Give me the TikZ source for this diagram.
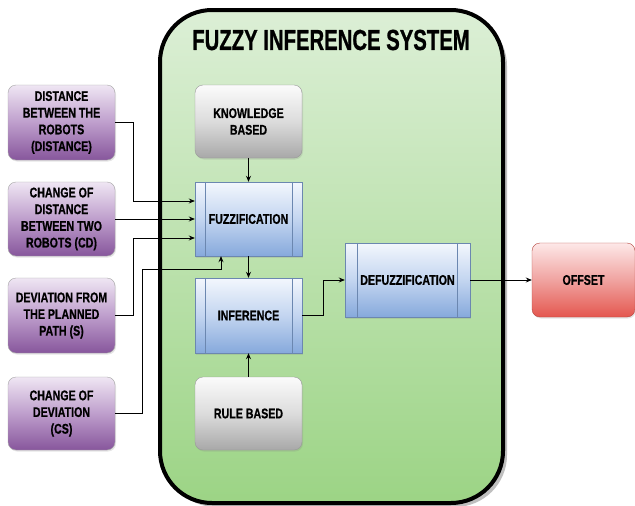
\documentclass[tikz,border=0pt]{standalone}
\usepackage{fontspec}
\newfontfamily\lblfont{Liberation Sans}[FakeStretch=0.76, BoldFeatures={FakeBold=0.8}]
\newfontfamily\ttlfont{Liberation Sans}[FakeStretch=0.70, BoldFeatures={FakeBold=0.8}]
\usetikzlibrary{arrows.meta,calc,shadows}
\definecolor{pTop}{HTML}{EFE6F3}
\definecolor{pMid}{HTML}{BE9ECC}
\definecolor{pBot}{HTML}{87569C}
\definecolor{gTop}{HTML}{FBFBFB}
\definecolor{gMid}{HTML}{DCDCDC}
\definecolor{gBot}{HTML}{A8A8A8}
\definecolor{bTop}{HTML}{F3F7FD}
\definecolor{bMid}{HTML}{C3D5F0}
\definecolor{bBot}{HTML}{86A9DC}
\definecolor{rTop}{HTML}{FDE8E8}
\definecolor{rMid}{HTML}{F0A3A0}
\definecolor{rBot}{HTML}{E4574F}
\definecolor{grTop}{HTML}{DCEFD6}
\definecolor{grBot}{HTML}{9CD485}
\tikzset{
  base/.style={font=\lblfont\bfseries\fontsize{14}{16.7}\selectfont, align=center,
    inner sep=0pt, drop shadow={opacity=0.2, shadow xshift=1pt, shadow yshift=-1.5pt}},
  purplebox/.style={base, rounded corners=8pt, draw=gray!70, line width=0.4pt,
    top color=pTop, bottom color=pBot, middle color=pMid,
    minimum width=107pt, minimum height=74pt},
  graybox/.style={base, rounded corners=8pt, draw=gray!80, line width=0.4pt,
    top color=gTop, bottom color=gBot, middle color=gMid,
    minimum width=107pt, minimum height=74pt},
  bluebox/.style={base, draw=bBot!80!black, line width=0.4pt,
    top color=bTop, bottom color=bBot, middle color=bMid,
    minimum width=107pt, minimum height=74pt},
  redbox/.style={base, rounded corners=8pt, draw=rBot!80!black, line width=0.4pt,
    top color=rTop, bottom color=rBot, middle color=rMid,
    minimum width=103pt, minimum height=74pt},
  arr/.style={draw=black, line width=0.8pt, -{Stealth[length=6pt,width=5pt]}},
  subline/.style={draw=bBot!80!black, line width=0.4pt}
}
\begin{document}
\begin{tikzpicture}[x=1pt,y=-1pt]
\useasboundingbox (0,0) rectangle (635,506);
\fill[white] (0,0) rectangle (635,506);
% container
\fill[black!25] (164,14) [rounded corners=52pt] rectangle (507,507);
\draw[line width=4pt, rounded corners=52pt, top color=grTop, bottom color=grBot]
  (160,10) rectangle (503,503);
\node (title) at (331,40) {\ttlfont\bfseries\fontsize{29}{32}\selectfont FUZZY INFERENCE SYSTEM};
% input boxes
\node[purplebox, minimum height=75pt] (d1) at (61.5,122.5) {DISTANCE\\BETWEEN THE\\ROBOTS\\(DISTANCE)};
\node[purplebox] (d2) at (61.5,219) {CHANGE OF\\DISTANCE\\BETWEEN TWO\\ROBOTS (CD)};
\node[purplebox, minimum height=75pt] (d3) at (61.5,315.5) {DEVIATION FROM\\THE PLANNED\\PATH (S)};
\node[purplebox, minimum height=73pt] (d4) at (61.5,413.5) {CHANGE OF\\DEVIATION\\(CS)};
% inner boxes
\node[graybox, minimum height=73pt] (kb) at (248.5,121.5) {KNOWLEDGE\\BASED};
\node[bluebox] (fz) at (248.5,219) {FUZZIFICATION};
\node[bluebox, minimum height=75pt] (inf) at (248.5,315.5) {INFERENCE};
\node[graybox, minimum height=73pt] (rb) at (248.5,413.5) {RULE BASED};
\node[bluebox, minimum width=125pt] (dz) at (407.5,280) {DEFUZZIFICATION};
\node[redbox] (off) at (583.5,280) {OFFSET};
% subprocess lines
\foreach \n in {fz,inf}{
  \draw[subline] ($(\n.north west)+(10,0)$) -- ($(\n.south west)+(10,0)$);
  \draw[subline] ($(\n.north east)+(-10,0)$) -- ($(\n.south east)+(-10,0)$);
}
\draw[subline] ($(dz.north west)+(12,0)$) -- ($(dz.south west)+(12,0)$);
\draw[subline] ($(dz.north east)+(-13,0)$) -- ($(dz.south east)+(-13,0)$);
% connectors
\draw[arr] (d1.east) -- ++(18,0) |- ($(fz.west)+(0,-18)$);
\draw[arr] (d2.east) -- (fz.west);
\draw[arr] (d3.east) -- ++(18,0) |- ($(fz.west)+(0,19)$);
\draw[arr] (d4.east) -- ++(27,0) |- ($(fz.south)+(-27.5,13)$) -- ($(fz.south)+(-27.5,0)$);
\draw[arr] (kb) -- (fz);
\draw[arr] (fz) -- (inf);
\draw[arr] (rb) -- (inf);
\draw[arr] (inf.east) -- ++(21,0) |- (dz.west);
\draw[arr] (dz.east) -- (off.west);
\end{tikzpicture}
\end{document}
